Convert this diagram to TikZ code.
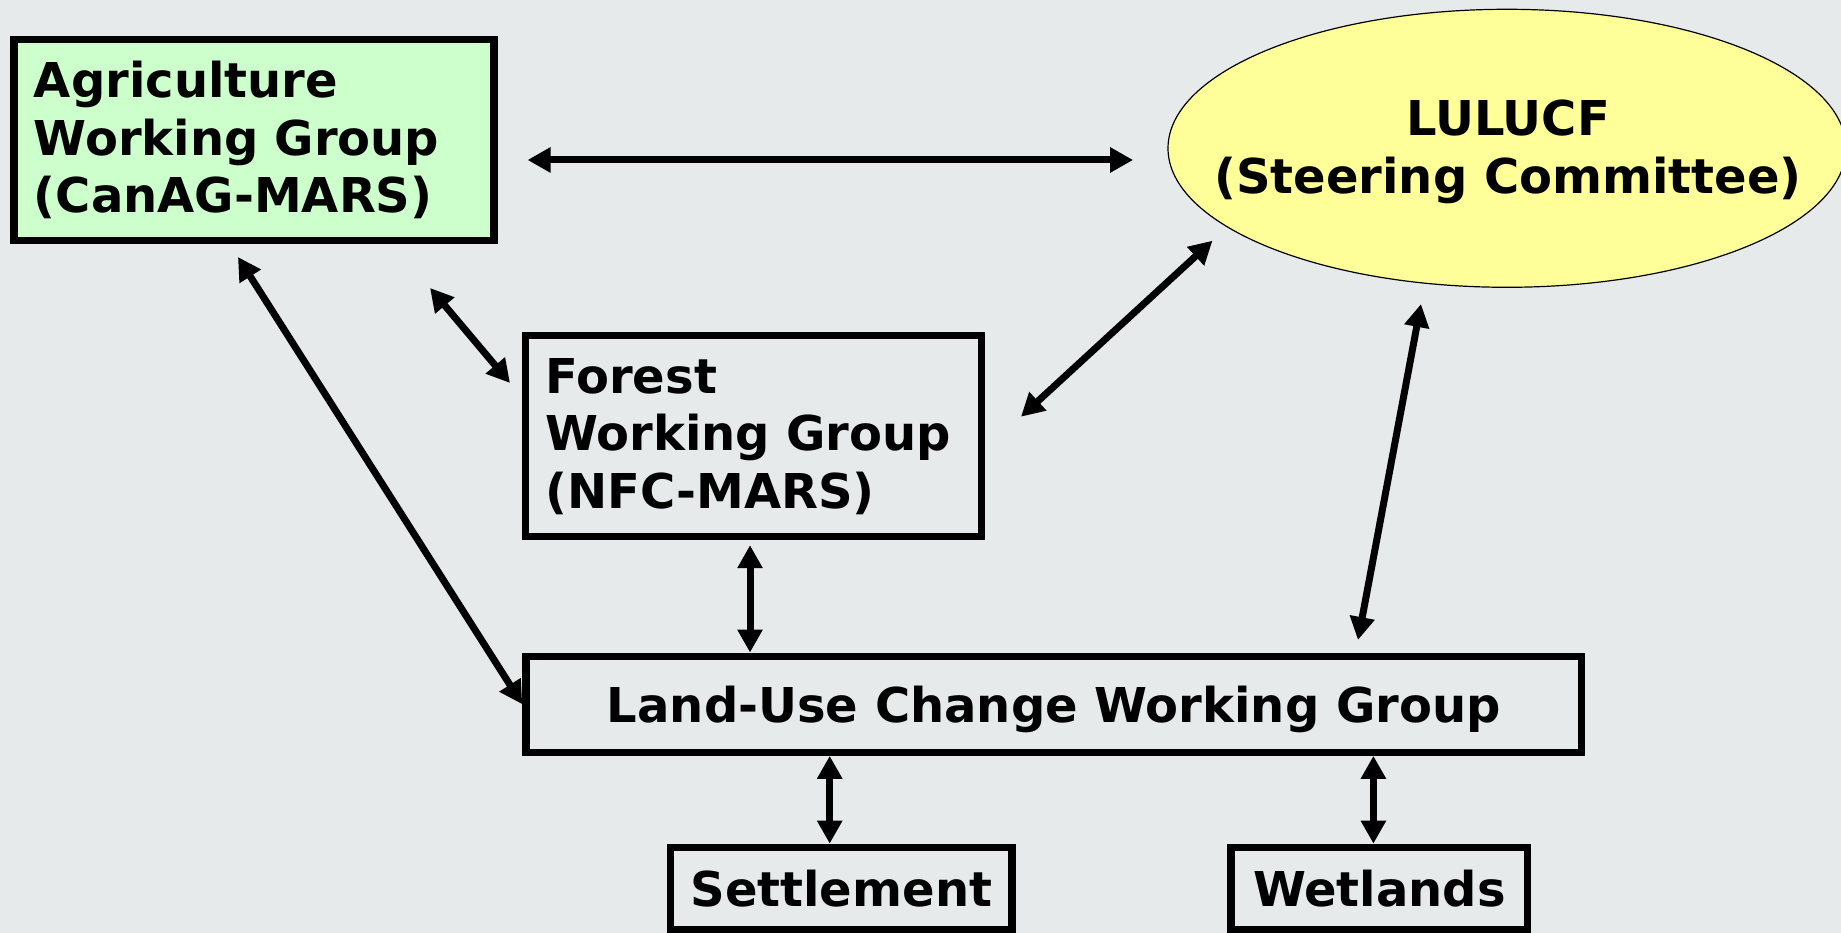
\documentclass[tikz,border=0pt]{standalone}
\usepackage{fontspec}
\setmainfont{DejaVu Sans}
\usepackage{xcolor}
\usetikzlibrary{arrows.meta,positioning,shapes.geometric}
\definecolor{lupage}{RGB}{230,234,235}
\definecolor{lugreen}{RGB}{204,255,204}
\definecolor{luyellow}{RGB}{255,255,153}
\newcommand{\lufont}{\fontsize{48pt}{57.5pt}\selectfont\bfseries}
\tikzset{
  lubox/.style={draw=black,line width=7.3pt,rectangle,inner sep=0pt,font=\lufont},
  luwg/.style={lubox,align=left,inner xsep=20pt},
  luleaf/.style={lubox,align=center,minimum height=82.2pt,text depth=0pt},
  lusteer/.style={ellipse,draw=black,line width=1.2pt,fill=luyellow,inner sep=0pt,
                  minimum width=678pt,minimum height=278pt},
  lutext/.style={font=\lufont,align=center},
  lulink/.style={{Triangle[length=23pt,width=24pt]}-{Triangle[length=23pt,width=24pt]},
                 line width=7pt}
}

\begin{document}
\begin{tikzpicture}[x=1pt,y=1pt]
  \useasboundingbox (0,0) rectangle (1841,933);
  \fill[lupage] (0,0) rectangle (1841,933);

  \node[luwg,fill=lugreen,text width=440pt,minimum height=201pt] (agri) at (253.9,793)
    {Agriculture\\Working Group\\(CanAG-MARS)};
  \node[luwg,text width=416pt,minimum height=200.7pt] (forest) at (753.4,496.8)
    {Forest\\Working Group\\(NFC-MARS)};
  \node[lusteer] (lulucf) at (1507,784.7) {};
  \node[lutext] (lulucftext) at (1508,781) {LULUCF\\(Steering Committee)};
  \node[luleaf,minimum width=1055.8pt,minimum height=96pt] (land) at (1053.8,228.8)
    {Land-Use Change Working Group};
  \node[luleaf,minimum width=341.6pt] (settle) at (841.3,44.6) {Settlement};
  \node[luleaf,minimum width=296.7pt] (wet) at (1379.4,44.6) {Wetlands};

  \draw[lulink,shorten <=30pt,shorten >=35.5pt]
    ([shift={(243.6,-20)}]agri.center) -- ([shift={(-338.4,-20)}]lulucf.center |- agri.center);
  \draw[lulink,shorten <=57.5pt,shorten >=18.3pt]
    ([shift={(139.1,-104)}]agri.center) -- ([shift={(-231.6,39.2)}]forest.center);
  \draw[lulink,shorten <=15.4pt] ([shift={(-24.2,-104)}]agri.center) -- (land.west);
  \draw[lulink,shorten <=49pt,shorten >=20.3pt]
    ([shift={(231.5,-13.7)}]forest.center) -- ([shift={(-279.6,-78.7)}]lulucf.center);
  \draw[lulink,shorten <=21.3pt,shorten >=12.9pt]
    ([shift={(-82.1,-134.8)}]lulucf.center) -- ([shift={(301.8,51.5)}]land.center);
  \draw[lulink,shorten <=5pt] ([xshift=-3.4pt]forest.south) -- ([xshift=-3.4pt]forest.south |- land.north);
  \foreach \leaf/\dx in {settle/-11.6,wet/-6}{
    \draw[lulink] ([xshift=\dx pt]\leaf.north) -- ([xshift=\dx pt]\leaf.north |- land.south);
  }
\end{tikzpicture}
\end{document}
